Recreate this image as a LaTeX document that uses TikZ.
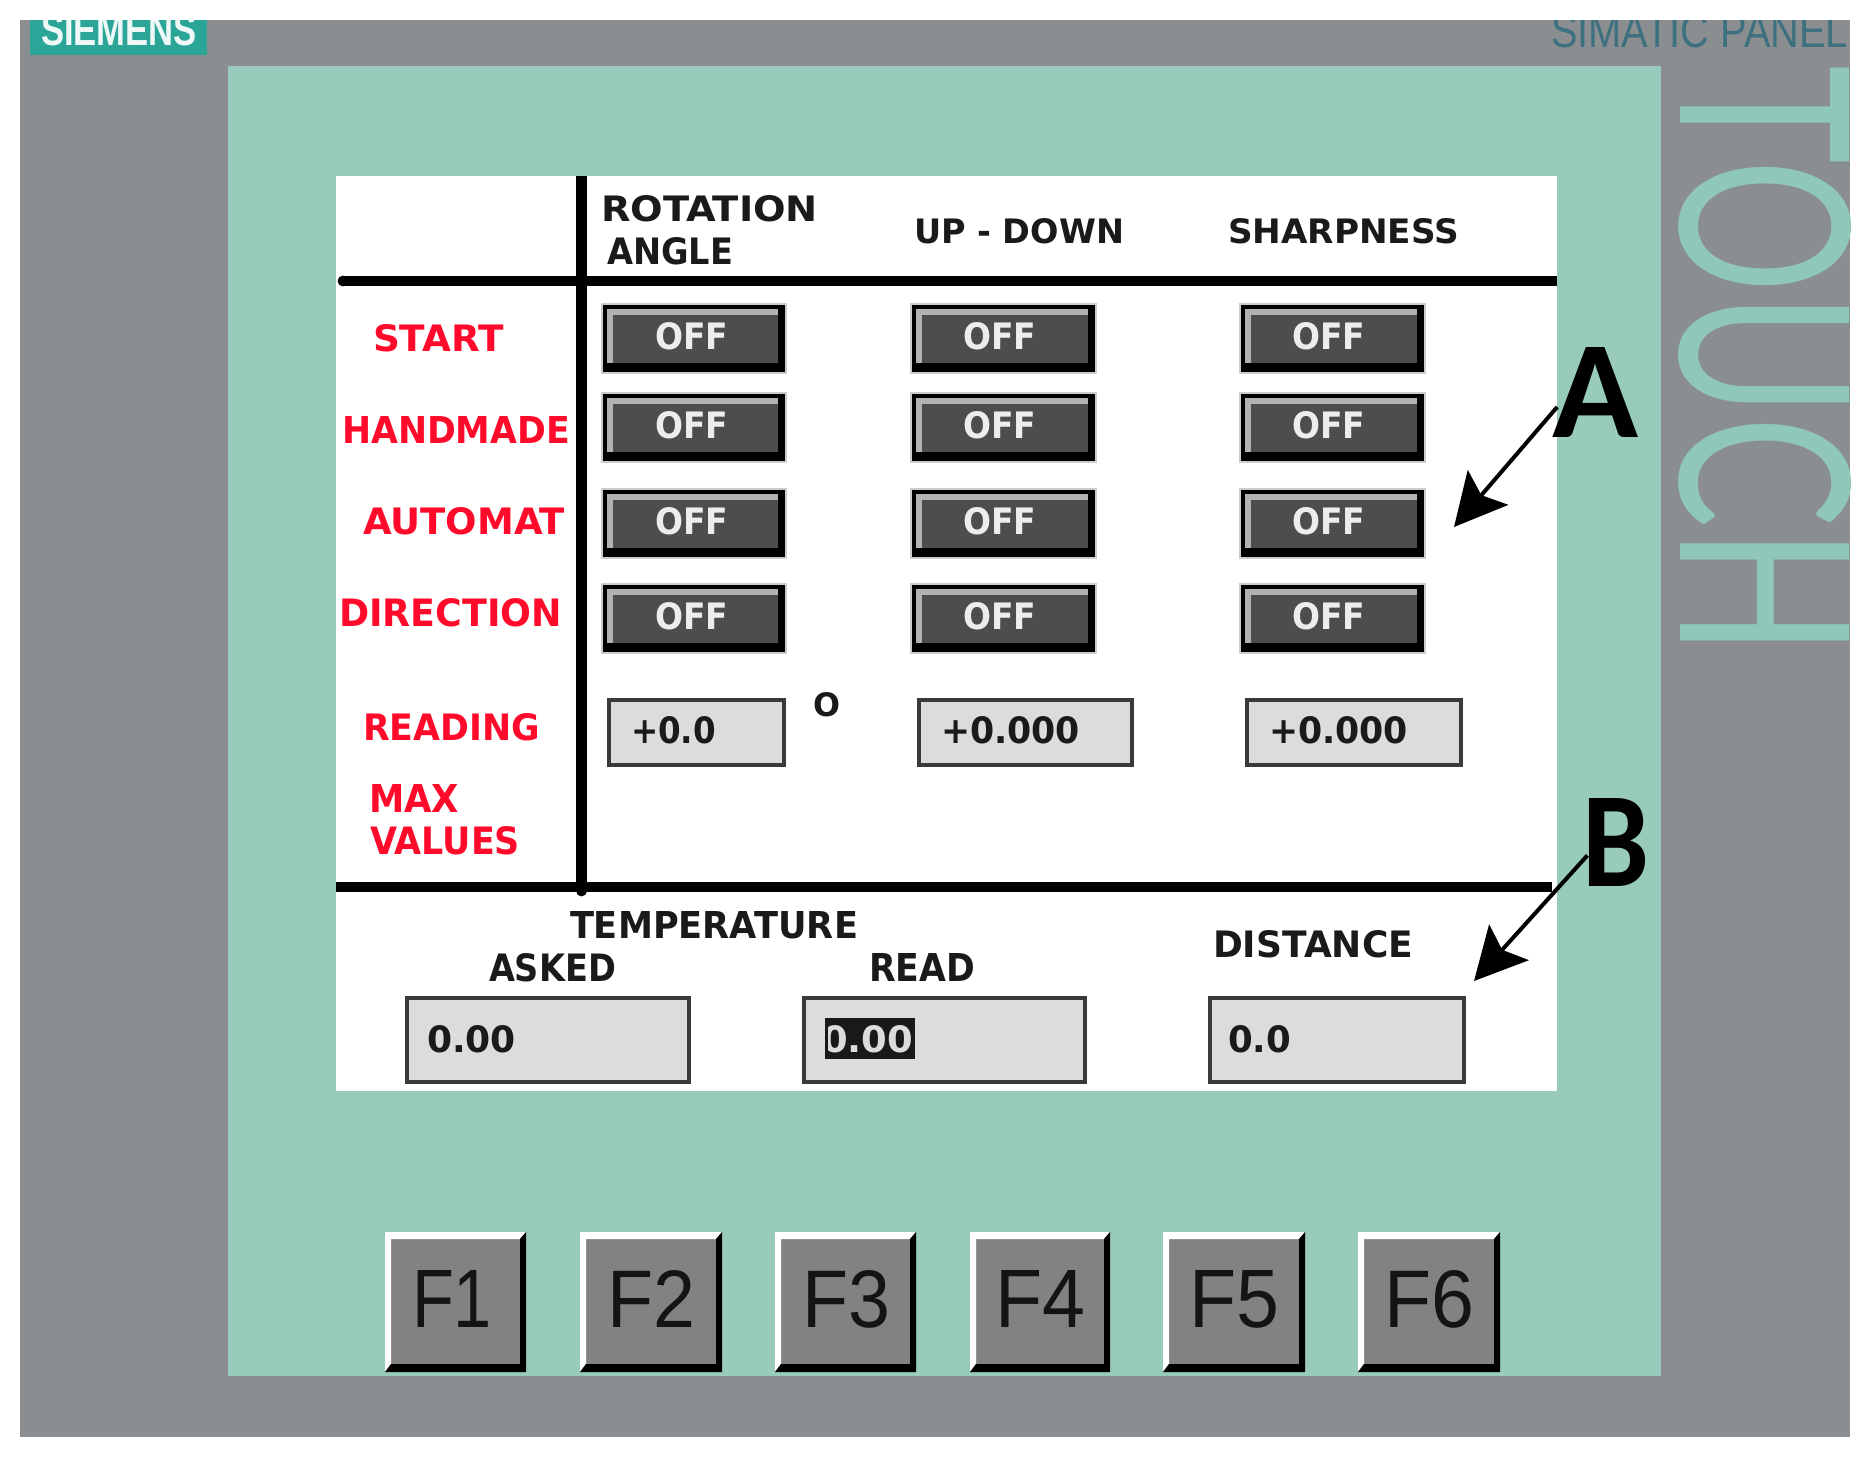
\documentclass[tikz,border=0pt]{standalone}
\usepackage{fontspec}
\usepackage{graphicx}
\usetikzlibrary{arrows.meta}
\setmainfont{Liberation Sans}
\newfontfamily\panelfont{DejaVu Sans}[BoldFont={DejaVu Sans Bold}]
\newfontfamily\markfont{Carlito}
\newfontfamily\touchfont{Lato}
\definecolor{panelgray}{HTML}{8A8E91}
\definecolor{panelteal}{HTML}{98CBBC}
\definecolor{touchteal}{HTML}{8FC8B8}
\definecolor{siemensbox}{HTML}{2BA597}
\definecolor{simatic}{HTML}{3E7180}
\definecolor{labred}{HTML}{FF0A2A}
\definecolor{labblack}{HTML}{1A1A1A}
\definecolor{btnfill}{HTML}{4D4D4D}
\definecolor{btnbevel}{HTML}{B2B2B2}
\definecolor{btnhalo}{HTML}{CCCCCC}
\definecolor{boxfill}{HTML}{DCDCDC}
\definecolor{boxline}{HTML}{3A3A3A}
\definecolor{fkey}{HTML}{828282}
\tikzset{
  lab/.style={inner sep=0pt,outer sep=0pt,anchor=base west},
  rule/.style={line width=5.4pt,black},
  shaft/.style={line width=2pt,black,shorten <=-4pt,-{Stealth[length=26pt,width=26.5pt,inset=5pt]}}
}
% fitted text: name, x1, x2, top, baseline, colour, font, text
\newcommand{\lbl}[8]{%
  \pgfmathsetlengthmacro{\lblw}{((#3)-(#2))*0.5}%
  \pgfmathsetlengthmacro{\lblh}{((#5)-(#4))*0.5}%
  \node[lab,text=#6] (#1) at (#2,#5) {\resizebox{\lblw}{\lblh}{#7\ignorespaces#8}};%
}
\newcommand{\bl}[7]{\lbl{#1}{#2}{#3}{#4}{#5}{#6}{\panelfont\bfseries}{#7}}
\newcommand{\offbtn}[6]{%
  \fill[btnhalo] (#2-2,#4-2) rectangle (#3+2,#5+2);
  \fill[black] (#2,#4) rectangle (#3,#5);
  \fill[btnbevel] (#2+4,#4+4) rectangle (#3-7,#5-9);
  \fill[btnfill] (#2+10,#4+10) rectangle (#3-7,#5-9);
  \bl{#1}{#6}{#6+73}{#4+17.5}{#4+44.5}{white!93!black}{OFF}
}
\newcommand{\valbox}[5]{%
  \fill[boxfill,draw=boxline,line width=1.7pt] (#2+2,#4+2) rectangle (#3-2,#5-2);
}
\newcommand{\fbtn}[7]{%
  \fill[fkey] (#2,#4) rectangle (#3,#5);
  \fill[white] (#2,#4) -- (#3,#4) -- (#3-6,#4+7) -- (#2+6,#4+7) -- (#2+6,#5-8) -- (#2,#5) -- cycle;
  \fill[black] (#3,#4) -- (#3,#5) -- (#2,#5) -- (#2+6,#5-8) -- (#3-6,#5-8) -- (#3-6,#4+7) -- cycle;
  \lbl{#1}{#6}{#7}{1270}{1327}{black!92}{}{#1}
}
\begin{document}
\begin{tikzpicture}[x=0.5pt,y=-0.5pt]
\useasboundingbox (0,0) rectangle (1873,1463);
\fill[white] (0,0) rectangle (1873,1463);
\fill[panelgray] (20,20) rectangle (1850,1437);
\fill[panelteal] (228,66) rectangle (1661,1376);
\fill[white] (336,176) rectangle (1557,1091);

% panel lettering (cut by the panel edge)
\begin{scope}
\clip (20,20) rectangle (1850,1437);
\fill[siemensbox] (30,10) rectangle (207,55);
\lbl{siemens}{41}{197}{14}{45}{white!92!siemensbox}{\bfseries}{SIEMENS}
\lbl{simaticpanel}{1551}{1848}{14}{47}{simatic}{}{SIMATIC PANEL}
\pgfmathsetlengthmacro{\tw}{590*0.5}
\pgfmathsetlengthmacro{\th}{171*0.5}
\node[inner sep=0pt,rotate=-90,text=touchteal] (touch) at (1765,361)
  {\resizebox{\tw}{\th}{\touchfont TOUCH}};
\end{scope}

% rules
\draw[rule] (581.5,176) -- (581.5,891);
\fill[black] (581.5,891) circle (5.4);
\draw[rule] (343,281) -- (1557,281);
\fill[black] (343,281) circle (5.4);
\draw[rule] (336,887) -- (1552,887);

% column heads
\bl{rotation}{601}{818}{195}{221}{labblack}{ROTATION}
\bl{angle}{607}{733}{237}{264}{labblack}{ANGLE}
\bl{updown}{914}{1124}{218}{243}{labblack}{UP - DOWN}
\bl{sharpness}{1228}{1459}{218}{243}{labblack}{SHARPNESS}

% row heads
\bl{start}{373}{504}{324}{351}{labred}{START}
\bl{handmade}{342}{570}{416}{443}{labred}{HANDMADE}
\bl{automat}{363}{565}{507}{534}{labred}{AUTOMAT}
\bl{direction}{339}{562}{598}{626}{labred}{DIRECTION}
\bl{reading}{363}{540}{713}{740}{labred}{READING}
\bl{maxl}{369}{459}{784}{812}{labred}{MAX}
\bl{values}{370}{520}{826}{854}{labred}{VALUES}

% OFF buttons
\offbtn{a1}{603}{785}{305}{372}{655}
\offbtn{a2}{603}{785}{394}{461}{655}
\offbtn{a3}{603}{785}{490}{557}{655}
\offbtn{a4}{603}{785}{585}{652}{655}
\offbtn{b1}{912}{1095}{305}{372}{963}
\offbtn{b2}{912}{1095}{394}{461}{963}
\offbtn{b3}{912}{1095}{490}{557}{963}
\offbtn{b4}{912}{1095}{585}{652}{963}
\offbtn{c1}{1241}{1424}{305}{372}{1292}
\offbtn{c2}{1241}{1424}{394}{461}{1292}
\offbtn{c3}{1241}{1424}{490}{557}{1292}
\offbtn{c4}{1241}{1424}{585}{652}{1292}

% reading boxes
\valbox{r1}{607}{786}{698}{767}
\valbox{r2}{917}{1134}{698}{767}
\valbox{r3}{1245}{1463}{698}{767}
\bl{rv1}{631}{716}{716}{743}{labblack}{+0.0}
\bl{rv2}{941}{1080}{716}{743}{labblack}{+0.000}
\bl{rv3}{1269}{1408}{716}{743}{labblack}{+0.000}
\bl{degree}{813}{840}{692}{716}{labblack}{O}

% bottom section
\bl{temperature}{570}{858}{911}{938}{labblack}{TEMPERATURE}
\bl{asked}{489}{616}{953}{981}{labblack}{ASKED}
\bl{readl}{869}{975}{953}{981}{labblack}{READ}
\bl{distance}{1213}{1413}{930}{957}{labblack}{DISTANCE}
\valbox{t1}{405}{691}{996}{1084}
\valbox{t2}{802}{1087}{996}{1084}
\valbox{t3}{1208}{1466}{996}{1084}
\bl{tv1}{427}{516}{1025}{1052}{labblack}{0.00}
\fill[black!90] (825,1018) rectangle (915,1059);
\begin{scope}
\clip (828,1018) rectangle (915,1059);
\bl{tv2}{822}{913}{1025}{1052}{boxfill}{0.00}
\end{scope}
\bl{tv3}{1228}{1291}{1025}{1052}{labblack}{0.0}

% function keys
\fbtn{F1}{385}{526}{1232}{1372}{412}{492}
\fbtn{F2}{580}{722}{1232}{1372}{607}{695}
\fbtn{F3}{775}{916}{1232}{1372}{802}{890}
\fbtn{F4}{970}{1110}{1232}{1372}{995}{1085}
\fbtn{F5}{1163}{1305}{1232}{1372}{1189}{1279}
\fbtn{F6}{1358}{1500}{1232}{1372}{1384}{1474}

% callouts
\lbl{A}{1552}{1638}{347}{437}{black}{\markfont\bfseries}{A}
\lbl{B}{1582}{1649}{798}{886}{black}{\markfont\bfseries}{B}
\coordinate (tipA) at (1454,527);
\coordinate (tipB) at (1474,981);
\draw[shaft] (A.206) -- (tipA);
\draw[shaft] (B.210) -- (tipB);
\end{tikzpicture}
\end{document}
